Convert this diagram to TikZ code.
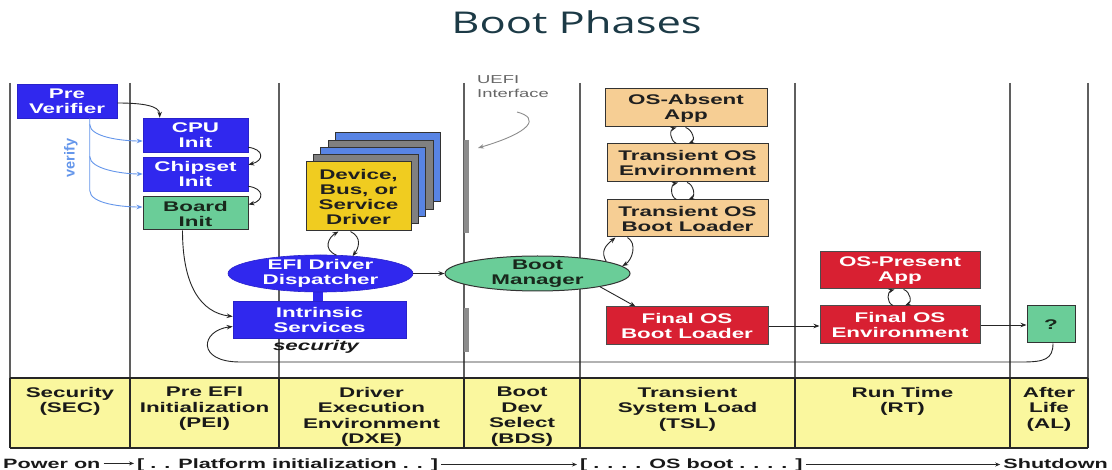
\documentclass[tikz,border=0pt]{standalone}
\usepackage{fontspec}
\usetikzlibrary{arrows.meta,calc,shapes.geometric}

\newfontfamily\labfont{Liberation Sans}[FakeStretch=1.6]
\newfontfamily\plainfont{Liberation Sans}
\newfontfamily\titlefont{Open Sans}[FakeStretch=1.45]

\definecolor{bxblue}{RGB}{48,40,238}
\definecolor{bxgreen}{RGB}{106,205,152}
\definecolor{bxtan}{RGB}{246,206,148}
\definecolor{bxred}{RGB}{216,32,50}
\definecolor{bxyellow}{RGB}{240,204,32}
\definecolor{bandyellow}{RGB}{250,247,158}
\definecolor{verifyblue}{RGB}{100,150,235}
\definecolor{stackblue}{RGB}{88,132,228}
\definecolor{stackgray}{RGB}{128,128,128}
\definecolor{titlecol}{RGB}{28,58,70}
\definecolor{divcol}{RGB}{95,95,95}
\definecolor{uefigray}{RGB}{140,140,140}
\definecolor{darktext}{RGB}{25,40,28}

% two facing arcs joining the bottom of an upper box to the top of a lower box
\newcommand\loopbetween[3]{% #1 upper node, #2 lower node, #3 x shift of the loop centre
  \draw[flow] ($(#2.north)+(#3-6,0)$) .. controls +(-7,-3) and +(-7,2) .. ($(#1.south)+(#3-4.5,0)$);
  \draw[flow] ($(#1.south)+(#3+4.5,0)$) .. controls +(7,2) and +(7,-3) .. ($(#2.north)+(#3+6,0)$);}

\begin{document}
\begin{tikzpicture}[x=1pt,y=-1pt,
  lab/.style={font=\labfont\bfseries\fontsize{14}{15}\selectfont, align=center, inner sep=0pt},
  rowlab/.style={font=\labfont\bfseries\fontsize{14}{15.4}\selectfont, align=center, inner sep=0pt, text=black!90},
  botline/.style={font=\labfont\bfseries\fontsize{13.5}{15}\selectfont, inner xsep=3pt, inner ysep=0pt, text=black!90},
  bluebox/.style={lab, rectangle, fill=bxblue, draw=bxblue!85!black, line width=0.6pt, text=white},
  greenbox/.style={lab, rectangle, fill=bxgreen, draw=black!80, line width=1pt, text=darktext},
  tanbox/.style={lab, rectangle, fill=bxtan, draw=black!80, line width=1pt, text=black!88},
  redbox/.style={lab, rectangle, fill=bxred, draw=black!70, line width=1pt, text=white},
  flow/.style={line width=0.9pt, draw=black!85, -{Stealth[length=6pt,width=4.5pt]}},
  thinarrow/.style={line width=0.8pt, draw=black!85, -{Stealth[length=5pt,width=4pt]}},
  verifyline/.style={line width=0.9pt, draw=verifyblue, -{Stealth[length=6pt,width=4.5pt]}},
  grayarrow/.style={line width=0.9pt, draw=uefigray, -{Stealth[length=6pt,width=4.5pt]}},
  divider/.style={line width=1.5pt, draw=divcol},
  bandline/.style={line width=1.1pt, draw=black!85}]

\useasboundingbox[fill=white] (0,0) rectangle (1112,470);

% title
\node[font=\titlefont\fontsize{30}{36}\selectfont, text=titlecol, anchor=base, inner sep=0pt]
  (title) at (576.5,33.5) {Boot Phases};

% phase band and column dividers
\fill[bandyellow] (10,378) rectangle (1088,448);
\foreach \x in {10,130,279,464,580,795,1010,1088} {
  \draw[divider] (\x,83) -- (\x,378);
  \draw[bandline] (\x,378) -- (\x,448);
}
\draw[bandline] (10,378) -- (1088,378);
\draw[bandline] (10,448) -- (1088,448);

% UEFI interface bars
\fill[uefigray] (463.5,140) rectangle (468.5,233);
\fill[uefigray] (463.5,308) rectangle (468.5,352);
\node[font=\labfont\fontsize{11.5}{14.5}\selectfont, text=black!60, align=left, anchor=north west, inner sep=0pt]
  (uefi) at (477,75) {UEFI\\Interface};
\coordinate (uefitail) at (517,112);
\coordinate (uefitip) at (478,148);
\draw[grayarrow] (uefitail) .. controls (540,118) and (532,132) .. (uefitip);

% stacked driver images
\foreach \i/\c in {4/stackblue,3/stackgray,2/stackblue,1/stackgray}
  \filldraw[fill=\c, draw=black!80, line width=0.8pt]
    ({306+7.3*\i},{162-7.3*\i}) rectangle ({411+7.3*\i},{231-7.3*\i});

% SEC / PEI
\node[bluebox, minimum width=100pt, minimum height=34pt] (prever) at (67,101) {Pre\\Verifier};
\node[bluebox, minimum width=105pt, minimum height=34pt] (cpu) at (195.5,135) {CPU\\Init};
\node[bluebox, minimum width=105pt, minimum height=34pt] (chip) at (195.5,174) {Chipset\\Init};
\node[greenbox, minimum width=105pt, minimum height=33pt] (board) at (195.5,213.5) {Board\\Init};

% DXE
\node[lab, rectangle, fill=bxyellow, draw=black!80, line width=1pt, text=black!88,
  minimum width=105pt, minimum height=69pt] (driver) at (358.5,196.5) {Device,\\Bus, or\\Service\\Driver};
\fill[bxblue] (313,285) rectangle (323,305);
\node[ellipse, fill=bxblue, draw=bxblue!85!black, line width=0.6pt, minimum width=185pt, minimum height=37pt, inner sep=0pt,
  label={[lab, text=white]center:{EFI Driver\\Dispatcher}}] (disp) at (320.5,273.5) {};
\node[bluebox, minimum width=173pt, minimum height=37pt] (intr) at (319.5,319.5) {Intrinsic\\Services};
\node[font=\labfont\bfseries\itshape\fontsize{14}{15}\selectfont, anchor=base, inner sep=0pt, text=black!90]
  (sec-label) at (316,351) {security};

% BDS
\node[ellipse, fill=bxgreen, draw=black!80, line width=1pt, minimum width=185pt, minimum height=35pt, inner sep=0pt,
  label={[lab, text=darktext]center:{Boot\\Manager}}] (bootmgr) at (537.5,273.5) {};

% TSL
\node[tanbox, minimum width=162pt, minimum height=38pt] (osabs) at (686,108) {OS-Absent\\App};
\node[tanbox, minimum width=161pt, minimum height=38pt] (tenv) at (687.5,163) {Transient OS\\Environment};
\node[tanbox, minimum width=161pt, minimum height=37pt] (tbl) at (687.5,218.5) {Transient OS\\Boot Loader};
\node[redbox, minimum width=162pt, minimum height=38pt] (fbl) at (687,326) {Final OS\\Boot Loader};

% RT / AL
\node[redbox, minimum width=160pt, minimum height=37pt] (opa) at (900,270.5) {OS-Present\\App};
\node[redbox, minimum width=160pt, minimum height=38pt] (foe) at (900,325) {Final OS\\Environment};
\node[greenbox, minimum width=48pt, minimum height=37pt] (q) at (1051,324.5) {?};

% verification paths
\node[font=\plainfont\bfseries\fontsize{14.5}{14.5}\selectfont, text=verifyblue, rotate=90, inner sep=0pt]
  (verify) at (71,158) {verify};
\draw[verifyline] ($(prever.south west)+(73,0)$) -- ($(prever.south west)+(73,72)$)
  .. controls +(0,14) and +(-18,0) .. ($(board.west)+(0,-6.5)$);
\draw[verifyline] ($(prever.south west)+(73,6)$) .. controls +(0,13) and +(-20,0) .. ($(cpu.west)+(0,6)$);
\draw[verifyline] ($(prever.south west)+(73,38)$) .. controls +(0,13) and +(-20,0) .. (chip.west);

% PEI flow
\draw[flow] ($(prever.east)+(0,2)$) .. controls +(25,0) and +(0,-12) .. ($(cpu.north west)+(17,0)$);
\draw[flow] ($(cpu.south east)+(0,-5)$) .. controls +(16,2) and +(16,-4) .. ($(chip.north east)+(0,8)$);
\draw[flow] ($(chip.south east)+(0,-5)$) .. controls +(16,2) and +(16,-4) .. ($(board.north east)+(0,8)$);
\draw[flow] ($(board.south west)+(40,0)$) .. controls +(0,55) and +(-32,-4) .. ($(intr.west)+(0,-3)$);

% DXE flow
\draw[flow] ($(disp.north)+(16,0.5)$) .. controls +(-14,-6) and +(-10,6) .. ($(driver.south)+(-20,0)$);
\draw[flow] ($(driver.south)+(-8,0)$) .. controls +(12,6) and +(6,-8) .. ($(disp.north)+(32,1.5)$);
\draw[flow] (disp.east) -- (bootmgr.west);

% TSL flow
\loopbetween{osabs}{tenv}{-5}
\loopbetween{tenv}{tbl}{-5}
\draw[flow] (bootmgr.10) .. controls +(-6,-10) and +(-10,8) .. ($(tbl.south west)+(9,0)$);
\draw[flow] ($(tbl.south west)+(21,0)$) .. controls +(10,6) and +(10,-6) .. (bootmgr.5);
\draw[flow] (bootmgr.-12) -- ($(fbl.north west)+(30,0)$);
\draw[flow] (fbl.east) -- (fbl.east -| foe.west);

% RT flow
\loopbetween{opa}{foe}{-1}
\draw[flow] (foe.east) -- (foe.east -| q.west);

% return path to the intrinsic services
\coordinate (loopR) at (1022,362);
\coordinate (loopL) at (240,362);
\draw[flow] ($(q.south)+(2,0)$) .. controls +(0,16) and +(22,0) .. (loopR) -- (loopL)
  .. controls +(-44,0) and +(-32,4) .. ($(intr.west)+(0,7)$);

% phase names
\node[rowlab, anchor=north] (sec) at (70,387) {Security\\(SEC)};
\node[rowlab, anchor=north] (pei) at (204.5,387) {Pre EFI\\Initialization\\(PEI)};
\node[rowlab, anchor=north] (dxe) at (371.5,387) {Driver\\Execution\\Environment\\(DXE)};
\node[rowlab, anchor=north] (bds) at (522,387) {Boot\\Dev\\Select\\(BDS)};
\node[rowlab, anchor=north] (tsl) at (687.5,387) {Transient\\System Load\\(TSL)};
\node[rowlab, anchor=north] (rt) at (902.5,387) {Run Time\\(RT)};
\node[rowlab, anchor=north] (al) at (1049,387) {After\\Life\\(AL)};

% timeline
\node[botline, anchor=base west] (pwr) at (0,468) {Power on};
\node[botline, anchor=base west] (plat) at (134,468) {[ . . Platform initialization . . ]};
\node[botline, anchor=base west] (osb) at (577,468) {[ . . . . OS boot . . . . ]};
\node[botline, anchor=base east] (shut) at (1111,468) {Shutdown};
\draw[thinarrow] (pwr.east) -- (pwr.east -| plat.west);
\draw[thinarrow] (plat.east) -- (plat.east -| osb.west);
\draw[thinarrow] (osb.east) -- (osb.east -| shut.west);
\end{tikzpicture}
\end{document}
